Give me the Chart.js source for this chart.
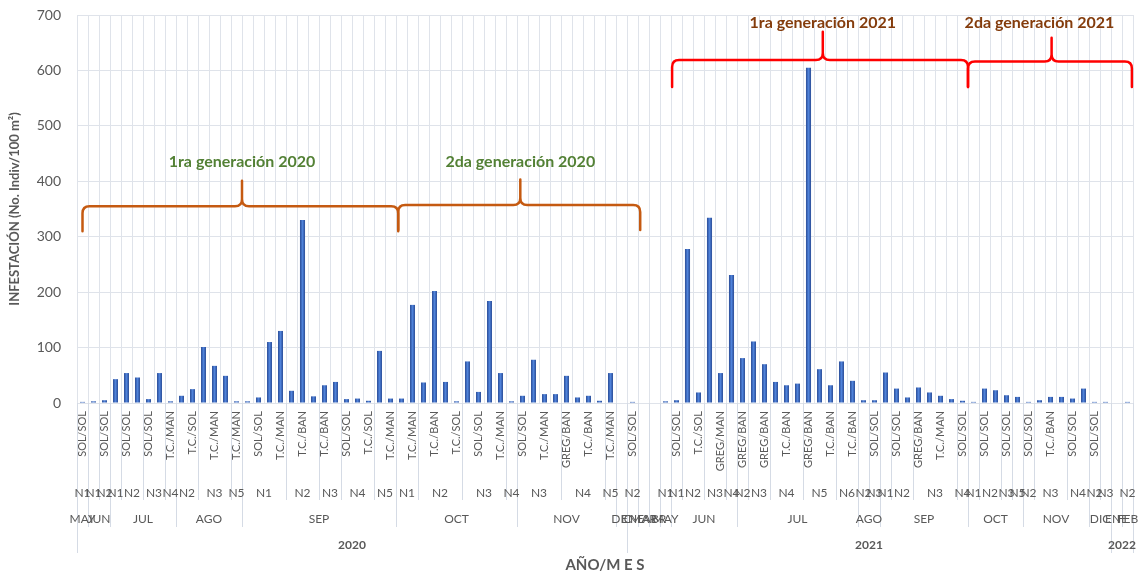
<!DOCTYPE html>
<html lang="es">
<head>
<meta charset="utf-8">
<title>Infestación por año y mes</title>
<script src="https://cdn.jsdelivr.net/npm/chart.js@4.4.1/dist/chart.umd.min.js"></script>
<style>
  html, body { margin: 0; padding: 0; background: #fff; }
  #wrap { position: relative; width: 1138px; height: 575px; }
</style>
</head>
<body>
<div id="wrap"><canvas id="grafico"></canvas></div>
<script>
// --- DATOS ---

// valor de infestación por muestreo (No. indiv / 100 m²), null = sin dato
const infestacion = [
  2, 3, 5, 43, 54, 46, 7, 54, 3, 13,
  25, 101, 67, 49, 3, 3, 10, 110, 130, 22,
  330, 12, 32, 38, 7, 8, 4, 94, 8, 8,
  177, 37, 202, 38, 3, 75, 20, 184, 54, 3,
  13, 78, 16, 16, 49, 10, 13, 4, 54, null,
  2, null, null, 3, 5, 278, 19, 334, 54, 231,
  81, 111, 70, 38, 32, 35, 605, 61, 32, 75,
  40, 5, 5, 55, 26, 10, 28, 19, 13, 7,
  4, 2, 26, 23, 14, 11, 2, 5, 11, 11,
  8, 26, 2, 2, null, 2
];

// variedad / lote (solo se leen las etiquetas visibles, una de cada dos)
const variedad = [
  'SOL/SOL', '', 'SOL/SOL', '', 'SOL/SOL', '', 'SOL/SOL', '', 'T.C./MAN', '',
  'T.C./SOL', '', 'T.C./MAN', '', 'T.C./MAN', '', 'SOL/SOL', '', 'T.C./MAN', '',
  'T.C./BAN', '', 'T.C./BAN', '', 'SOL/SOL', '', 'T.C./SOL', '', 'T.C./MAN', '',
  'T.C./MAN', '', 'T.C./BAN', '', 'T.C./SOL', '', 'SOL/SOL', '', 'T.C./MAN', '',
  'SOL/SOL', '', 'T.C./MAN', '', 'GREG/BAN', '', 'T.C./BAN', '', 'T.C./MAN', '',
  'SOL/SOL', '', '', '', 'SOL/SOL', '', 'T.C./SOL', '', 'GREG/MAN', '',
  'GREG/BAN', '', 'GREG/BAN', '', 'T.C./BAN', '', 'GREG/BAN', '', 'T.C./BAN', '',
  'T.C./BAN', '', 'SOL/SOL', '', 'SOL/SOL', '', 'GREG/BAN', '', 'T.C./MAN', '',
  'SOL/SOL', '', 'SOL/SOL', '', 'SOL/SOL', '', 'SOL/SOL', '', 'T.C./BAN', '',
  'SOL/SOL', '', 'SOL/SOL', '', '', ''
];

// niveles agrupados: [etiqueta, nº de muestreos]
const niveles = [
  ['N1', 1], ['N1', 1], ['N2', 1], ['N1', 1], ['N2', 2], ['N3', 2], ['N4', 1],
  ['N2', 2], ['N3', 3], ['N5', 1], ['N1', 4], ['N2', 3], ['N3', 2], ['N4', 3], ['N5', 2],
  ['N1', 2], ['N2', 4], ['N3', 4], ['N4', 1], ['N3', 4], ['N4', 4], ['N5', 1], ['', 1],
  ['N2', 1], ['', 1], ['', 1], ['N1', 1], ['N1', 1], ['N2', 2], ['N3', 2], ['N4', 1],
  ['N2', 1], ['N3', 2], ['N4', 3], ['N5', 3], ['N6', 2], ['N2', 1], ['N3', 1],
  ['N1', 1], ['N2', 2], ['N3', 4], ['N4', 1], ['N1', 1], ['N2', 2], ['N3', 1], ['N5', 1],
  ['N2', 1], ['N3', 3], ['N4', 2], ['N2', 1], ['N3', 1], ['', 1], ['N2', 1]
];

const meses = [
  ['MAY', 1], ['JUN', 2], ['JUL', 6], ['AGO', 6], ['SEP', 14], ['OCT', 11], ['NOV', 9], ['DIC', 1],
  ['ENE', 1], ['MAR', 1], ['ABR', 1], ['MAY', 1], ['JUN', 6], ['JUL', 11], ['AGO', 2], ['SEP', 8],
  ['OCT', 5], ['NOV', 6], ['DIC', 2], ['ENE', 1], ['FEB', 1]
];

const anios = [['2020', 50], ['2021', 44], ['2022', 2]];

const ticksY = [0, 100, 200, 300, 400, 500, 600, 700];

// llaves de generaciones (en unidades de los ejes: índice de muestreo / infestación)
const llaves = [
  { texto: '1ra generación 2020', desde: 0, hasta: 28.7, centro: 14.5, base: 355, extremo: 310, cima: 401, textoX: 14.5, textoY: 435, trazo: '#c55a11', tinta: '#538135' },
  { texto: '2da generación 2020', desde: 28.7, hasta: 50.7, centro: 39.8, base: 357, extremo: 312, cima: 403, textoX: 39.8, textoY: 435, trazo: '#c55a11', tinta: '#538135' },
  { texto: '1ra generación 2021', desde: 53.6, hasta: 80.5, centro: 67.3, base: 619, extremo: 570, cima: 670, textoX: 67.3, textoY: 686, trazo: '#ff0000', tinta: '#843c0c' },
  { texto: '2da generación 2021', desde: 80.5, hasta: 95.4, centro: 88.1, base: 616, extremo: 570, cima: 659, textoX: 87.0, textoY: 686, trazo: '#ff0000', tinta: '#843c0c' }
];

// --- ESTILO ---
const FUENTE = 'Lato, "Noto Sans", sans-serif';
const GRIS = '#595959';
const REJILLA = '#dfe3ea';
const ANCHO_BARRA = 0.46;

// --- PLUGINS ---

// eje de categorías jerárquico (nivel / mes / año), estilo Excel
const ejeJerarquico = {
  id: 'ejeJerarquico',
  afterDraw(chart) {
    const { ctx, chartArea, scales: { x } } = chart;
    const borde = k => x.getPixelForValue(k - 0.5);
    const y0 = chartArea.bottom;
    const filas = [
      { grupos: niveles, centro: 90, fin: 97, fuente: '12px ' + FUENTE },
      { grupos: meses, centro: 116, fin: 124, fuente: '12px ' + FUENTE },
      { grupos: anios, centro: 142, fin: 150, fuente: 'bold 12px ' + FUENTE }
    ];

    const cortes = new Map();
    filas.forEach(f => {
      let k = 0;
      cortes.set(0, Math.max(cortes.get(0) || 0, f.fin));
      f.grupos.forEach(([, n]) => {
        k += n;
        cortes.set(k, Math.max(cortes.get(k) || 0, f.fin));
      });
    });

    ctx.save();
    ctx.strokeStyle = '#d5dbe5';
    ctx.lineWidth = 1;
    cortes.forEach((fin, k) => {
      const px = Math.round(borde(k)) + 0.5;
      ctx.beginPath();
      ctx.moveTo(px, y0);
      ctx.lineTo(px, y0 + fin);
      ctx.stroke();
    });

    ctx.fillStyle = GRIS;
    ctx.textAlign = 'center';
    ctx.textBaseline = 'middle';
    filas.forEach(f => {
      ctx.font = f.fuente;
      let k = 0;
      f.grupos.forEach(([etiqueta, n]) => {
        if (etiqueta) ctx.fillText(etiqueta, (borde(k) + borde(k + n)) / 2, y0 + f.centro);
        k += n;
      });
    });
    ctx.restore();
  }
};

// llaves con texto de generación
const llavesGeneracion = {
  id: 'llavesGeneracion',
  afterDraw(chart) {
    const { ctx, scales: { x, y } } = chart;
    const r = 7;
    ctx.save();
    llaves.forEach(l => {
      const x1 = x.getPixelForValue(l.desde);
      const x2 = x.getPixelForValue(l.hasta);
      const xm = x.getPixelForValue(l.centro);
      const yb = y.getPixelForValue(l.base);
      const ye = y.getPixelForValue(l.extremo);
      const yp = y.getPixelForValue(l.cima);

      ctx.strokeStyle = l.trazo;
      ctx.lineWidth = 2.5;
      ctx.lineCap = 'round';
      ctx.lineJoin = 'round';
      ctx.beginPath();
      ctx.moveTo(x1, ye);
      ctx.lineTo(x1, yb + r);
      ctx.quadraticCurveTo(x1, yb, x1 + r, yb);
      ctx.lineTo(xm - r, yb);
      ctx.quadraticCurveTo(xm, yb, xm, yb - r);
      ctx.lineTo(xm, yp);
      ctx.moveTo(xm, yb - r);
      ctx.quadraticCurveTo(xm, yb, xm + r, yb);
      ctx.lineTo(x2 - r, yb);
      ctx.quadraticCurveTo(x2, yb, x2, yb + r);
      ctx.lineTo(x2, ye);
      ctx.stroke();

      ctx.fillStyle = l.tinta;
      ctx.font = 'bold 16px ' + FUENTE;
      ctx.textAlign = 'center';
      ctx.textBaseline = 'middle';
      ctx.fillText(l.texto, x.getPixelForValue(l.textoX), y.getPixelForValue(l.textoY));
    });
    ctx.restore();
  }
};

// degradado horizontal de cada barra (aspecto Excel)
const colorBarra = (c) => {
  const x = c.chart.scales.x;
  if (c.type !== 'data' || !x || !isFinite(x.getPixelForValue(c.dataIndex))) return '#3f6cc4';
  const px = x.getPixelForValue(c.dataIndex);
  const media = (x.width / infestacion.length) * ANCHO_BARRA / 2;
  const g = c.chart.ctx.createLinearGradient(px - media, 0, px + media, 0);
  g.addColorStop(0, '#2a4c96');
  g.addColorStop(0.5, '#4f82da');
  g.addColorStop(1, '#2a4c96');
  return g;
};

// --- GRÁFICO ---
new Chart(document.getElementById('grafico'), {
  type: 'bar',
  data: {
    labels: variedad,
    datasets: [{
      label: 'Infestación',
      data: infestacion,
      backgroundColor: colorBarra,
      borderWidth: 0,
      barPercentage: ANCHO_BARRA,
      categoryPercentage: 1
    }]
  },
  options: {
    responsive: true,
    maintainAspectRatio: false,
    animation: false,
    layout: { padding: { top: 15, right: 5, bottom: 0, left: 0 } },
    plugins: {
      legend: { display: false },
      tooltip: { enabled: false }
    },
    scales: {
      x: {
        offset: true,
        grid: { color: REJILLA, offset: true, drawTicks: false },
        border: { color: REJILLA },
        ticks: {
          autoSkip: false,
          minRotation: 90,
          maxRotation: 90,
          padding: 8,
          color: GRIS,
          font: { family: FUENTE, size: 11 },
          callback: (v, i) => variedad[i]
        },
        title: {
          display: true,
          text: 'AÑO/M E S',
          color: GRIS,
          font: { family: FUENTE, size: 15, weight: 'bold' },
          padding: { top: 0, bottom: 1 }
        },
        afterFit: s => { s.height = 172; s.paddingLeft = 0; s.paddingRight = 0; }
      },
      y: {
        min: ticksY[0],
        max: ticksY[ticksY.length - 1],
        afterBuildTicks: s => { s.ticks = ticksY.map(v => ({ value: v })); },
        grid: { color: REJILLA, drawTicks: false },
        border: { color: REJILLA },
        ticks: {
          padding: 16,
          color: GRIS,
          font: { family: FUENTE, size: 14 }
        },
        title: {
          display: true,
          text: 'INFESTACIÓN (No. Indiv/100 m²)',
          color: GRIS,
          font: { family: FUENTE, size: 13, weight: 'bold' },
          padding: { top: 7, bottom: 0 }
        },
        afterFit: s => { s.width = 77; s.paddingTop = 0; s.paddingBottom = 0; }
      }
    }
  },
  plugins: [ejeJerarquico, llavesGeneracion]
});
</script>
</body>
</html>
